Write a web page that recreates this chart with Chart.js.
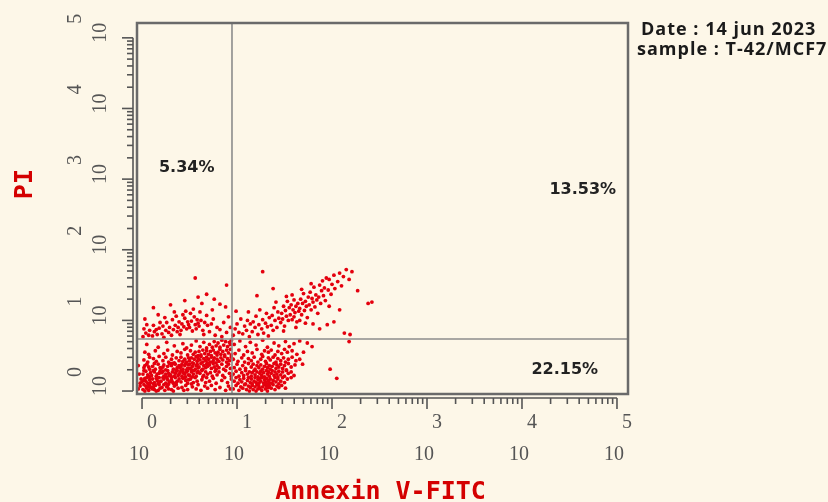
<!DOCTYPE html>
<html>
<head>
<meta charset="utf-8">
<script src="https://cdn.jsdelivr.net/npm/chart.js@4.4.1/dist/chart.umd.min.js"></script>
<style>
    html, body { margin: 0; padding: 0; background: #fdf7e8; }
    canvas { display: block; }
</style>
</head>
<body>
<canvas id="dotPlot" width="828" height="502"></canvas>
<script>
// axis decades (log10 of fluorescence), tick exponents and the quadrant gate
const decadeExponents = ['0', '1', '2', '3', '4', '5'];
const annexinGate = 0.947;
const piGate = 0.737;
const quadrantPercents = ['5.34%', '13.53%', '22.15%'];
const infoLines = ['Date : 14 jun 2023', 'sample : T-42/MCF7'];

// events per quadrant, [log10 Annexin V-FITC, log10 PI]
const liveCells = [
    [-0.04,0.03],[-0.02,0.11],[-0.03,0.24],[-0.01,0.17],[-0.04,0.36],[-0.02,0.07],
    [0.01,0.02],[0.04,0.07],[0.07,0.01],[0.02,0.09],[0.09,0.05],[0.05,0.04],[0.08,0.08],[0.03,0.0],[0.06,0.06],
    [0.11,0.03],[0.14,0.08],[0.17,0.01],[0.12,0.06],[0.19,0.04],[0.15,0.0],[0.18,0.09],[0.13,0.02],
    [0.21,0.05],[0.24,0.01],[0.27,0.08],[0.23,0.09],[0.28,0.03],[0.26,0.06],
    [0.31,0.02],[0.34,0.07],[0.38,0.04],[0.36,0.09],[0.33,0.0],
    [0.42,0.05],[0.46,0.08],[0.48,0.02],[0.44,0.01],
    [0.53,0.06],[0.57,0.03],[0.59,0.09],[0.62,0.01],[0.66,0.07],[0.69,0.04],
    [0.73,0.08],[0.77,0.02],[0.82,0.05],[0.88,0.01],[0.91,0.07],[0.93,0.03],
    [0.0,0.13],[0.03,0.18],[0.06,0.11],[0.08,0.16],[0.02,0.15],[0.05,0.19],[0.09,0.12],[0.04,0.14],
    [0.11,0.17],[0.13,0.12],[0.16,0.15],[0.18,0.19],[0.12,0.1],[0.15,0.18],[0.19,0.13],[0.17,0.11],
    [0.2,0.14],[0.22,0.19],[0.25,0.11],[0.27,0.16],[0.29,0.13],[0.23,0.17],[0.26,0.19],[0.28,0.1],
    [0.31,0.16],[0.33,0.11],[0.35,0.19],[0.37,0.14],[0.39,0.17],[0.32,0.13],[0.36,0.12],
    [0.41,0.13],[0.43,0.18],[0.46,0.15],[0.48,0.11],[0.45,0.19],[0.49,0.16],
    [0.51,0.17],[0.54,0.12],[0.56,0.19],[0.58,0.14],[0.52,0.1],
    [0.63,0.16],[0.67,0.12],[0.68,0.19],[0.71,0.14],[0.75,0.18],[0.78,0.11],
    [0.84,0.15],[0.87,0.19],[0.9,0.12],[0.94,0.17],
    [0.01,0.24],[0.04,0.28],[0.07,0.21],[0.09,0.26],[0.02,0.29],[0.06,0.23],[0.08,0.2],
    [0.1,0.22],[0.13,0.27],[0.15,0.21],[0.18,0.25],[0.12,0.29],[0.16,0.24],[0.19,0.28],
    [0.21,0.26],[0.23,0.21],[0.25,0.24],[0.27,0.29],[0.29,0.22],[0.22,0.28],[0.26,0.2],[0.28,0.25],
    [0.3,0.23],[0.32,0.27],[0.34,0.21],[0.35,0.25],[0.37,0.29],[0.39,0.24],[0.31,0.2],[0.36,0.28],[0.38,0.22],
    [0.4,0.26],[0.42,0.21],[0.43,0.28],[0.45,0.24],[0.46,0.2],[0.47,0.27],[0.49,0.23],[0.41,0.29],[0.44,0.25],[0.48,0.29],
    [0.5,0.22],[0.52,0.27],[0.54,0.24],[0.55,0.29],[0.57,0.21],[0.58,0.26],[0.53,0.2],[0.59,0.28],
    [0.61,0.25],[0.63,0.29],[0.65,0.22],[0.67,0.27],[0.69,0.24],[0.64,0.2],
    [0.72,0.26],[0.74,0.21],[0.77,0.28],[0.79,0.23],[0.81,0.27],[0.85,0.22],[0.88,0.29],[0.92,0.25],[0.94,0.21],
    [0.02,0.33],[0.05,0.38],[0.08,0.31],[0.03,0.36],[0.07,0.34],
    [0.11,0.35],[0.14,0.31],[0.17,0.38],[0.19,0.33],[0.13,0.39],
    [0.2,0.32],[0.23,0.37],[0.25,0.3],[0.27,0.35],[0.29,0.39],[0.22,0.34],
    [0.31,0.36],[0.33,0.31],[0.35,0.38],[0.37,0.33],[0.39,0.36],[0.32,0.39],[0.36,0.3],
    [0.4,0.33],[0.42,0.38],[0.43,0.31],[0.45,0.36],[0.46,0.39],[0.48,0.32],[0.49,0.37],[0.41,0.35],[0.47,0.3],
    [0.5,0.38],[0.51,0.32],[0.53,0.35],[0.54,0.39],[0.56,0.31],[0.57,0.36],[0.59,0.33],[0.52,0.3],[0.58,0.38],
    [0.6,0.34],[0.62,0.39],[0.64,0.31],[0.65,0.36],[0.67,0.33],[0.68,0.38],[0.63,0.3],[0.69,0.35],
    [0.71,0.37],[0.73,0.32],[0.75,0.39],[0.76,0.34],[0.78,0.31],[0.79,0.36],
    [0.81,0.33],[0.84,0.38],[0.86,0.31],[0.89,0.35],[0.91,0.38],[0.93,0.32],
    [0.02,0.44],[0.06,0.41],[0.08,0.48],[0.12,0.46],[0.15,0.42],[0.18,0.49],
    [0.22,0.43],[0.25,0.48],[0.28,0.41],[0.31,0.45],[0.34,0.4],[0.36,0.47],[0.39,0.43],
    [0.41,0.48],[0.43,0.42],[0.45,0.45],[0.47,0.41],[0.49,0.47],
    [0.5,0.43],[0.52,0.47],[0.53,0.4],[0.55,0.45],[0.57,0.49],[0.58,0.42],[0.59,0.46],
    [0.61,0.44],[0.62,0.49],[0.64,0.41],[0.65,0.46],[0.67,0.43],[0.68,0.48],[0.69,0.4],
    [0.7,0.45],[0.72,0.41],[0.73,0.48],[0.75,0.43],[0.76,0.47],[0.78,0.4],[0.79,0.45],
    [0.81,0.42],[0.83,0.47],[0.85,0.44],[0.87,0.49],[0.89,0.41],[0.9,0.46],[0.92,0.43],[0.94,0.48],
    [0.03,0.55],[0.07,0.52],[0.14,0.57],[0.23,0.53],[0.27,0.58],[0.32,0.51],[0.37,0.56],
    [0.41,0.54],[0.45,0.59],[0.48,0.51],[0.51,0.57],[0.54,0.52],[0.56,0.55],[0.59,0.5],
    [0.6,0.56],[0.62,0.51],[0.64,0.58],[0.66,0.53],[0.68,0.57],
    [0.7,0.52],[0.72,0.56],[0.73,0.5],[0.75,0.58],[0.77,0.54],[0.79,0.51],
    [0.8,0.55],[0.82,0.59],[0.83,0.52],[0.85,0.56],[0.87,0.51],[0.89,0.58],[0.91,0.54],[0.93,0.59],[0.94,0.51],
    [0.05,0.66],[0.17,0.62],[0.26,0.69],[0.34,0.64],[0.43,0.67],[0.47,0.61],[0.52,0.65],[0.57,0.71],
    [0.61,0.63],[0.65,0.69],[0.68,0.61],[0.71,0.66],[0.74,0.62],[0.76,0.7],[0.78,0.64],
    [0.8,0.68],[0.82,0.62],[0.84,0.72],[0.86,0.65],[0.88,0.7],[0.9,0.63],[0.92,0.69],[0.93,0.66],[0.94,0.72]
];

const necroticCells = [
    [0.01,0.77],[0.04,0.82],[0.07,0.79],[0.02,0.88],[0.08,0.86],[0.05,0.94],[0.03,1.02],
    [0.11,0.78],[0.13,0.84],[0.16,0.8],[0.18,0.89],[0.12,0.93],[0.15,0.87],[0.19,0.97],[0.17,1.08],
    [0.21,0.81],[0.23,0.76],[0.25,0.86],[0.28,0.83],[0.22,0.92],[0.26,0.97],[0.29,0.9],[0.24,1.04],
    [0.31,0.79],[0.33,0.87],[0.35,0.93],[0.37,0.84],[0.39,0.98],[0.32,1.01],[0.36,1.06],[0.38,0.9],[0.34,1.12],
    [0.41,0.86],[0.42,0.95],[0.44,0.91],[0.45,1.03],[0.47,0.88],[0.48,0.98],[0.43,1.08],[0.46,1.13],[0.49,0.94],[0.4,0.8],
    [0.5,0.9],[0.52,0.99],[0.53,0.85],[0.55,1.05],[0.56,0.94],[0.58,1.01],[0.51,1.1],[0.57,0.88],[0.59,0.96],[0.54,1.16],
    [0.6,0.92],[0.62,1.0],[0.64,0.86],[0.66,0.97],[0.68,1.07],[0.61,1.12],[0.65,0.8],[0.69,0.93],
    [0.71,0.84],[0.73,0.95],[0.75,1.02],[0.77,0.79],[0.79,0.9],[0.74,1.15],
    [0.82,0.87],[0.84,0.77],[0.86,0.97],[0.89,0.83],[0.91,1.05],[0.93,0.9],[0.88,1.19],
    [0.56,1.6],[0.89,1.5],[0.68,1.37],[0.59,1.33],[0.82,1.23],[0.3,1.22],[0.45,1.28],[0.76,1.3],[0.12,1.18],[0.63,1.24]
];

const earlyApoptotic = [
    [0.96,0.03],[0.99,0.08],[1.02,0.01],[1.04,0.06],
    [1.06,0.04],[1.08,0.09],[1.1,0.02],[1.12,0.07],[1.13,0.0],[1.14,0.05],
    [1.16,0.08],[1.17,0.02],[1.19,0.06],[1.2,0.0],[1.21,0.09],[1.22,0.03],[1.23,0.07],[1.24,0.04],
    [1.26,0.01],[1.27,0.06],[1.29,0.09],[1.3,0.03],[1.31,0.07],[1.32,0.0],[1.33,0.05],[1.34,0.08],
    [1.36,0.04],[1.38,0.09],[1.4,0.02],[1.42,0.07],[1.44,0.05],[1.47,0.08],[1.51,0.04],
    [0.97,0.14],[0.99,0.19],[1.01,0.11],[1.03,0.16],
    [1.05,0.13],[1.07,0.18],[1.09,0.1],[1.11,0.15],[1.12,0.19],[1.14,0.12],
    [1.15,0.17],[1.16,0.1],[1.18,0.14],[1.19,0.19],[1.2,0.12],[1.22,0.16],[1.23,0.11],[1.24,0.18],
    [1.25,0.14],[1.26,0.19],[1.28,0.11],[1.29,0.16],[1.3,0.13],[1.31,0.18],[1.32,0.1],[1.33,0.15],[1.34,0.12],
    [1.35,0.17],[1.37,0.11],[1.38,0.15],[1.4,0.19],[1.41,0.13],[1.43,0.17],[1.44,0.1],
    [1.46,0.14],[1.48,0.19],[1.5,0.12],[1.53,0.17],[1.57,0.19],
    [0.96,0.24],[0.99,0.28],[1.02,0.21],
    [1.05,0.26],[1.07,0.22],[1.09,0.29],[1.11,0.24],[1.13,0.27],
    [1.15,0.21],[1.16,0.26],[1.18,0.29],[1.19,0.23],[1.21,0.27],[1.22,0.2],[1.24,0.25],
    [1.25,0.28],[1.26,0.22],[1.28,0.26],[1.29,0.2],[1.31,0.29],[1.32,0.24],[1.33,0.27],[1.34,0.21],
    [1.36,0.25],[1.37,0.29],[1.39,0.22],[1.4,0.27],[1.42,0.24],[1.43,0.2],[1.44,0.28],
    [1.46,0.23],[1.48,0.27],[1.5,0.21],[1.52,0.29],[1.54,0.25],[1.57,0.27],[1.6,0.22],
    [0.97,0.33],[1.0,0.38],[1.03,0.31],[1.06,0.36],[1.09,0.32],[1.12,0.39],
    [1.15,0.34],[1.17,0.38],[1.19,0.31],[1.21,0.36],[1.23,0.33],
    [1.25,0.37],[1.27,0.31],[1.29,0.35],[1.31,0.39],[1.32,0.33],[1.34,0.36],
    [1.35,0.31],[1.37,0.35],[1.39,0.39],[1.41,0.32],[1.42,0.37],[1.44,0.34],
    [1.46,0.38],[1.48,0.32],[1.5,0.36],[1.52,0.3],[1.54,0.39],[1.57,0.34],[1.61,0.37],
    [0.96,0.45],[1.01,0.42],[1.05,0.47],[1.08,0.41],[1.12,0.46],[1.15,0.43],[1.18,0.48],[1.22,0.41],
    [1.25,0.45],[1.27,0.49],[1.3,0.42],[1.33,0.47],[1.35,0.44],[1.38,0.48],[1.41,0.41],[1.43,0.46],
    [1.46,0.43],[1.49,0.47],[1.51,0.41],[1.54,0.45],[1.58,0.48],[1.62,0.43],
    [0.98,0.53],[1.02,0.58],[1.07,0.51],[1.11,0.56],[1.16,0.54],[1.21,0.59],
    [1.26,0.52],[1.29,0.57],[1.33,0.55],[1.36,0.58],[1.4,0.51],[1.43,0.56],
    [1.47,0.53],[1.5,0.59],[1.53,0.55],[1.58,0.57],[1.63,0.52],
    [0.97,0.66],[1.03,0.71],[1.09,0.63],[1.14,0.69],[1.2,0.65],[1.27,0.72],[1.32,0.62],
    [1.39,0.68],[1.44,0.64],[1.51,0.7],[1.55,0.63],[1.6,0.67],[1.66,0.71],
    [1.66,0.45],[1.7,0.55],[1.79,0.63],[1.98,0.31],[2.05,0.18],[2.18,0.7],[1.74,0.68],[1.69,0.38]
];

const lateApoptotic = [
    [0.96,0.79],[0.98,0.88],[1.0,0.95],[1.02,0.83],[1.04,1.02],[0.99,1.13],
    [1.06,0.81],[1.08,0.92],[1.1,0.86],[1.11,1.0],[1.13,0.77],[1.14,0.95],[1.12,1.12],
    [1.16,0.84],[1.17,0.98],[1.19,0.9],[1.2,1.06],[1.22,0.8],[1.23,0.94],[1.24,1.15],[1.21,1.35],
    [1.26,0.88],[1.27,1.01],[1.28,0.82],[1.3,0.96],[1.31,1.1],[1.32,0.91],[1.34,1.04],[1.33,0.78],[1.27,1.69],
    [1.36,0.93],[1.37,1.07],[1.38,0.86],[1.39,1.18],[1.4,1.0],[1.42,0.9],[1.43,1.12],[1.44,1.03],[1.41,1.26],[1.38,1.45],
    [1.46,0.97],[1.47,1.1],[1.48,1.02],[1.49,1.2],[1.5,0.92],[1.51,1.14],[1.52,1.06],[1.53,1.27],[1.54,1.0],[1.55,1.18],[1.49,0.85],[1.52,1.34],
    [1.56,1.08],[1.57,1.22],[1.58,1.01],[1.59,1.15],[1.6,1.29],[1.61,1.11],[1.62,1.2],[1.63,0.98],[1.64,1.24],[1.65,1.13],[1.58,1.36],[1.62,0.9],[1.6,1.05],
    [1.66,1.17],[1.67,1.3],[1.68,1.08],[1.69,1.24],[1.7,1.38],[1.71,1.14],[1.72,1.27],[1.73,1.2],[1.74,1.04],[1.75,1.33],[1.68,1.44],[1.72,0.96],[1.66,1.0],
    [1.76,1.22],[1.77,1.4],[1.78,1.15],[1.79,1.31],[1.8,1.26],[1.81,1.47],[1.82,1.19],[1.83,1.36],[1.84,1.29],[1.85,1.1],[1.78,1.52],[1.8,0.95],
    [1.86,1.33],[1.87,1.5],[1.88,1.24],[1.89,1.42],[1.9,1.56],[1.91,1.35],[1.92,1.46],[1.93,1.28],[1.94,1.6],[1.87,0.88],
    [1.96,1.43],[1.97,1.58],[1.99,1.37],[2.0,1.51],[2.02,1.64],[2.03,1.45],[1.95,0.94],[2.02,0.98],
    [2.06,1.55],[2.08,1.67],[2.1,1.49],[2.12,1.62],[2.15,1.72],[2.18,1.58],[2.21,1.69],[2.13,0.82],[2.19,0.8],
    [2.27,1.42],[2.38,1.24],[2.42,1.26],[2.08,1.15],[1.97,1.2]
];

const toPoints = list => list.map(p => ({ x: p[0], y: p[1] }));

const flowAxes = {
    id: 'flowAxes',
    afterDatasetsDraw(chart) {
        const { ctx, chartArea: a, scales: { x, y } } = chart;
        const line = (x1, y1, x2, y2) => {
            ctx.beginPath();
            ctx.moveTo(x1, y1);
            ctx.lineTo(x2, y2);
            ctx.stroke();
        };
        ctx.save();

        // quadrant gate
        ctx.strokeStyle = '#8c8c8c';
        ctx.lineWidth = 1.6;
        const gx = x.getPixelForValue(annexinGate);
        const gy = y.getPixelForValue(piGate);
        line(gx, a.top, gx, a.bottom);
        line(a.left, gy, a.right, gy);

        // plot frame
        ctx.strokeStyle = '#6a6a6a';
        ctx.lineWidth = 2.5;
        ctx.strokeRect(a.left, a.top, a.right - a.left, a.bottom - a.top);

        // decade ticks, major and minor
        ctx.strokeStyle = '#555';
        ctx.lineWidth = 1.6;
        const axisY = a.bottom + 4;
        const axisX = a.left - 4;
        line(x.getPixelForValue(0), axisY, x.getPixelForValue(5), axisY);
        line(axisX, y.getPixelForValue(0), axisX, y.getPixelForValue(5));
        for (let n = 0; n <= 5; n++) {
            for (let k = 1; k <= 9; k++) {
                if (n === 5 && k > 1) break;
                const v = n + Math.log10(k);
                const len = k === 1 ? 11 : 6;
                const px = x.getPixelForValue(v);
                const py = y.getPixelForValue(v);
                line(px, axisY, px, axisY + len);
                line(axisX, py, axisX - len, py);
            }
        }

        // tick labels: exponent set above / beside the 10
        ctx.fillStyle = '#555';
        ctx.font = '20px "Liberation Serif", "DejaVu Serif", serif';
        ctx.textAlign = 'center';
        ctx.textBaseline = 'middle';
        decadeExponents.forEach((exp, n) => {
            const px = x.getPixelForValue(n);
            ctx.fillText('10', px - 3, axisY + 57);
            ctx.fillText(exp, px + 10, axisY + 25);

            const py = y.getPixelForValue(n);
            ctx.save();
            ctx.translate(axisX - 32, py - 5);
            ctx.rotate(-Math.PI / 2);
            ctx.fillText('10', 0, 0);
            ctx.restore();
            ctx.save();
            ctx.translate(axisX - 57, py - 19);
            ctx.rotate(-Math.PI / 2);
            ctx.fillText(exp, 0, 0);
            ctx.restore();
        });

        // axis titles
        ctx.fillStyle = '#d40000';
        ctx.font = 'bold 25px "DejaVu Sans Mono", "Liberation Mono", monospace';
        ctx.fillText('Annexin V-FITC', (a.left + a.right) / 2 - 2, axisY + 94);
        ctx.save();
        ctx.translate(25, y.getPixelForValue(3) + 5);
        ctx.rotate(-Math.PI / 2);
        ctx.fillText('PI', 0, 0);
        ctx.restore();

        // quadrant percentages
        ctx.fillStyle = '#222';
        ctx.font = 'bold 16px "DejaVu Sans", Verdana, sans-serif';
        ctx.fillText(quadrantPercents[0], x.getPixelForValue(0.47), y.getPixelForValue(3.16));
        ctx.fillText(quadrantPercents[1], x.getPixelForValue(4.64), y.getPixelForValue(2.85));
        ctx.fillText(quadrantPercents[2], x.getPixelForValue(4.45), y.getPixelForValue(0.3));

        // sample info
        ctx.fillStyle = '#1a1a1a';
        ctx.font = 'bold 18px "Open Sans", Lato, sans-serif';
        ctx.letterSpacing = '1px';
        ctx.textAlign = 'left';
        ctx.fillText(infoLines[0], a.right + 13, a.top + 7);
        ctx.fillText(infoLines[1], a.right + 9, a.top + 27);

        ctx.restore();
    }
};

const dotStyle = {
    backgroundColor: '#e4000e',
    borderWidth: 0,
    pointRadius: 1.9,
    pointHoverRadius: 1.9
};

new Chart(document.getElementById('dotPlot'), {
    type: 'scatter',
    data: {
        datasets: [
            { label: 'Live', data: toPoints(liveCells), ...dotStyle },
            { label: 'Necrotic', data: toPoints(necroticCells), ...dotStyle },
            { label: 'Early apoptotic', data: toPoints(earlyApoptotic), ...dotStyle },
            { label: 'Late apoptotic', data: toPoints(lateApoptotic), ...dotStyle }
        ]
    },
    options: {
        responsive: false,
        animation: false,
        layout: { padding: { left: 137, right: 200, top: 23, bottom: 108 } },
        plugins: {
            legend: { display: false },
            tooltip: { enabled: false }
        },
        scales: {
            x: { type: 'linear', min: -0.053, max: 5.116, display: false },
            y: { type: 'linear', min: -0.042, max: 5.21, display: false }
        }
    },
    plugins: [flowAxes]
});
</script>
</body>
</html>
